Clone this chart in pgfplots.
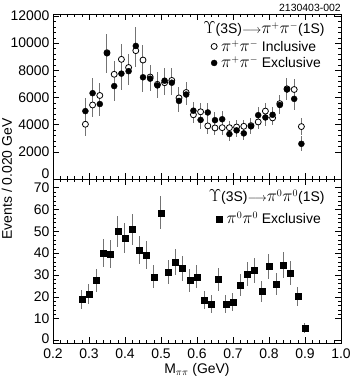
\documentclass[border=0pt]{standalone}
\usepackage{fontspec}
\setmainfont{Liberation Sans}
\usepackage{pgfplots}
\usepackage{pgfplotstable}
\pgfplotsset{compat=1.18}

% larger Greek letters, as in the original's symbol font
\newcommand{\ppi}{\mbox{\fontsize{16}{17}\selectfont$\pi$}}
\newcommand{\Ups}{\mbox{\fontsize{17}{18}\selectfont$\Upsilon$}}
\newcommand{\arr}{\mbox{\fontsize{12}{14}\selectfont$\longrightarrow$}}

% pi+pi- inclusive (open circles)
\pgfplotstableread{
x    y     e
0.29 4030  850
0.31 5450  850
0.33 6150  900
0.35 9300  1400
0.37 7710  1000
0.39 8810  1100
0.41 8210  1000
0.43 9450  1200
0.45 8760  1100
0.47 7510  900
0.49 6970  900
0.51 7090  900
0.53 7260  900
0.55 5970  800
0.57 6370  750
0.59 4730  600
0.61 4950  650
0.63 3910  600
0.65 3760  550
0.67 3780  550
0.69 3780  500
0.71 3830  500
0.73 3880  500
0.75 3930  550
0.77 4200  550
0.79 5000  600
0.81 4500  550
0.83 5550  650
0.85 6640  800
0.87 6590  800
0.89 3860  650
}\inclusive

% pi+pi- exclusive (filled circles)
\pgfplotstableread{
x    y     e
0.29 5000  1000
0.31 6320  1150
0.33 5520  900
0.35 9260  1450
0.37 6840  1100
0.39 7760  1200
0.41 7940  1000
0.43 9800  1400
0.45 7490  1100
0.47 7390  900
0.49 6890  900
0.51 7240  900
0.53 7090  900
0.55 5750  800
0.57 6220  750
0.59 5030  650
0.61 4350  700
0.63 4900  700
0.65 4330  600
0.67 4400  600
0.69 3310  500
0.71 3580  500
0.73 3360  500
0.75 3880  550
0.77 4700  600
0.79 4530  600
0.81 4730  550
0.83 5450  650
0.85 6590  800
0.87 5900  800
0.89 2590  550
}\exclusive

% pi0pi0 exclusive (squares)
\pgfplotstableread{
x    y     e
0.28 18.8  4.3
0.30 21.2  4.6
0.32 27.4  5.2
0.34 40.0  6.3
0.36 39.5  6.3
0.38 50.0  7.1
0.40 46.8  6.8
0.42 50.8  7.1
0.44 41.3  6.4
0.46 39.1  6.3
0.48 29.2  5.4
0.50 58.5  7.6
0.52 31.4  5.6
0.54 36.0  6.0
0.56 32.9  5.7
0.58 27.4  5.2
0.60 29.2  5.4
0.62 18.5  4.3
0.64 16.8  4.1
0.66 27.9  5.3
0.68 16.8  4.1
0.70 17.7  4.2
0.72 25.5  5.0
0.74 30.5  5.5
0.76 32.0  5.7
0.78 22.6  4.8
0.80 34.0  5.8
0.82 25.8  5.1
0.84 34.6  5.9
0.86 30.8  5.5
0.88 20.1  4.5
0.90 5.6   2.4
}\neutral

\pgfplotsset{
  cleo/.style={
    scale only axis, width=288bp, clip=false,
    xmin=0.2, xmax=1.0,
    xtick={0.2,0.3,0.4,0.5,0.6,0.7,0.8,0.9,1.0},
    minor x tick num=4, minor y tick num=4,
    major tick length=6bp, minor tick length=3bp,
    tick style={black, line width=0.5pt},
    axis line style={line width=0.8pt},
    tick label style={font=\fontsize{14}{16}\selectfont,
      /pgf/number format/assume math mode=true},
    xticklabel style={yshift=-2bp, /pgf/number format/.cd, fixed, fixed zerofill, precision=1},
    yticklabel style={/pgf/number format/1000 sep={}},
    scaled y ticks=false,
    legend style={draw=none, fill=none, font=\fontsize{14}{16}\selectfont,
      row sep=4pt, inner sep=0pt, nodes={inner xsep=4bp, inner ysep=0pt}},
    legend cell align=left,
  },
  errs/.style={error bars/.cd, y dir=both, y explicit, error mark=none,
    error bar style={black!55, line width=1bp}},
}

\begin{document}
\begin{tikzpicture}
\useasboundingbox (-53bp,-39bp) rectangle (301bp,343bp);

% lower panel: pi0 pi0
\begin{axis}[cleo, at={(0,0)}, anchor=south west, height=164bp,
  ymin=-1.2, ymax=74, ytick={10,20,30,40,50,60,70},
  extra y ticks={0}, extra y tick style={yticklabel style={yshift=2bp}},
  legend style={at={(rel axis cs:1,1)}, anchor=north east, xshift=-16bp, yshift=-33bp}]
\addplot[only marks, mark=square*, mark size=3bp, black, errs]
  table[x=x, y=y, y error=e] {\neutral};
\addlegendentry{$\ppi^0\ppi^0$ Exclusive}
\node[anchor=base east, font=\fontsize{14}{16}\selectfont]
  at ([xshift=-13bp, yshift=-23bp]rel axis cs:1,1) {\Ups(3S)\arr$\ppi^0\ppi^0$(1S)};
\node[anchor=base, font=\fontsize{14}{16}\selectfont]
  at ([yshift=-30bp]rel axis cs:0.5,0) {M$_{\pi\pi}$ (GeV)};
\node[anchor=base, rotate=90, font=\fontsize{14}{16}\selectfont]
  at ([xshift=-41bp]rel axis cs:0,1) {Events / 0.020 GeV};
\end{axis}

% upper panel: pi+ pi-
\begin{axis}[cleo, at={(0,164bp)}, anchor=south west, height=165bp,
  ymin=0, ymax=12150, ytick={2000,4000,6000,8000,10000,12000},
  extra y ticks={0}, extra y tick style={yticklabel style={yshift=5bp}},
  xticklabels={},
  legend style={at={(rel axis cs:1,1)}, anchor=north east, xshift=-16bp, yshift=-26bp}]
\addplot[only marks, mark=*, mark size=3bp, mark options={fill=white, draw=black, line width=0.8pt}, errs]
  table[x=x, y=y, y error=e] {\inclusive};
\addlegendentry{$\ppi^+\ppi^-$ Inclusive}
\addplot[only marks, mark=*, mark size=3bp, black, errs]
  table[x=x, y=y, y error=e] {\exclusive};
\addlegendentry{$\ppi^+\ppi^-$ Exclusive}
\node[anchor=base east, font=\fontsize{14}{16}\selectfont]
  at ([xshift=-13bp, yshift=-20bp]rel axis cs:1,1) {\Ups(3S)\arr$\ppi^+\ppi^-$(1S)};
\node[anchor=base east, font=\fontsize{10.5}{12}\selectfont, inner sep=0pt]
  at ([yshift=2bp]rel axis cs:1,1) {2130403-002};
\end{axis}
\end{tikzpicture}
\end{document}
